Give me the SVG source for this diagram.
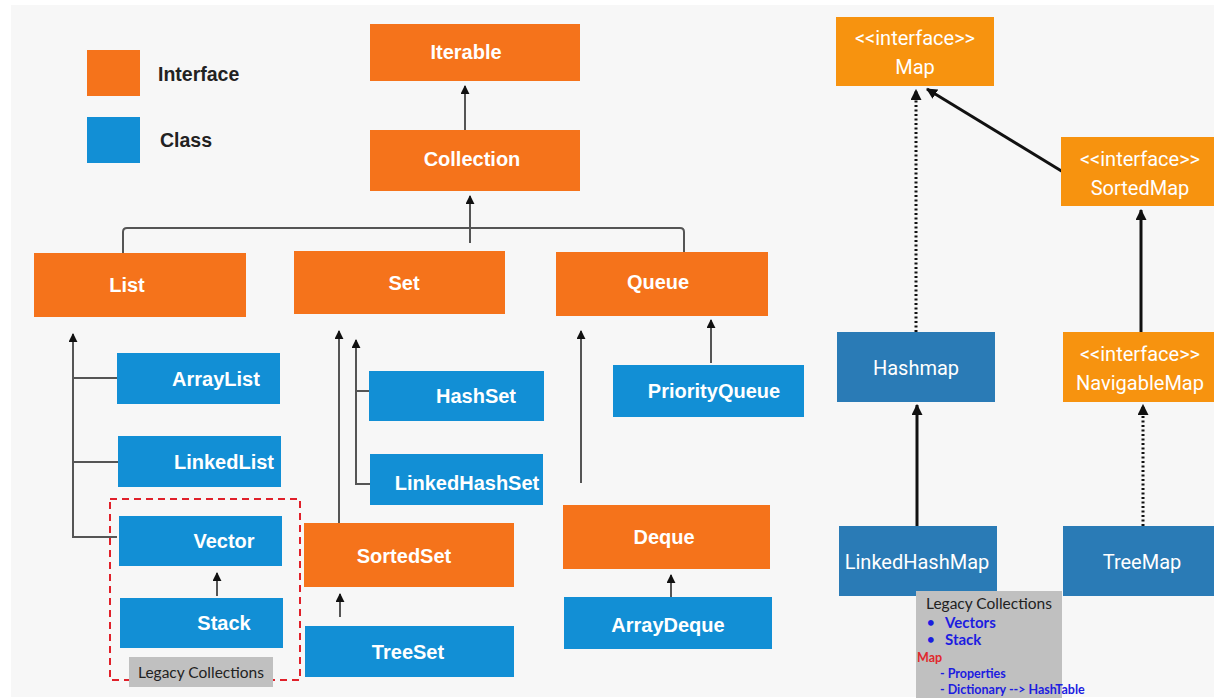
<svg xmlns="http://www.w3.org/2000/svg" width="1214" height="698" viewBox="0 0 1214 698">
  <defs>
    <style>
      .iface { fill: #f5731b; }
      .cls { fill: #128fd5; }
      .miface { fill: #f7930f; }
      .mcls { fill: #2a7bb6; }
      .lbl { font-family: "Liberation Sans", Arial, sans-serif; font-weight: bold; font-size: 20px; fill: #ffffff; text-anchor: middle; }
      .mlbl { font-family: "Liberation Sans Narrow", "Roboto", "Liberation Sans", sans-serif; font-size: 20px; fill: #ffffff; text-anchor: middle; }
      .legend { font-family: "Liberation Sans", Arial, sans-serif; font-weight: bold; font-size: 19.5px; fill: #222222; }
      .wire { fill: none; stroke: #555555; stroke-width: 2; }
      .mwire { fill: none; stroke: #111111; stroke-width: 3; }
      .mdot { fill: none; stroke: #111111; stroke-width: 3; stroke-dasharray: 2 2.5; }
      .note { font-family: Lato, "Open Sans", sans-serif; font-size: 15.5px; fill: #222222; }
      .blue { font-family: Lato, "Open Sans", sans-serif; font-weight: bold; fill: #1c1ce0; }
    </style>
    <marker id="tip" viewBox="0 0 10 10" refX="9" refY="5" markerWidth="9" markerHeight="9" markerUnits="userSpaceOnUse" orient="auto">
      <path d="M0,0 L10,5 L0,10 Z" fill="#111111"/>
    </marker>
    <marker id="mtip" viewBox="0 0 10 10" refX="9" refY="5" markerWidth="11" markerHeight="11" markerUnits="userSpaceOnUse" orient="auto">
      <path d="M0,0 L10,5 L0,10 Z" fill="#111111"/>
    </marker>
  </defs>

  <!-- page -->
  <rect x="0" y="0" width="1214" height="698" fill="#ffffff"/>
  <rect x="11" y="5" width="1203" height="692" fill="#f7f7f7"/>

  <!-- legend -->
  <g id="legend">
    <rect class="iface" x="87" y="50" width="53" height="46"/>
    <text class="legend" x="158" y="81">Interface</text>
    <rect class="cls" x="87" y="117" width="53" height="46"/>
    <text class="legend" x="160" y="147">Class</text>
  </g>

  <!-- connectors -->
  <g id="connectors">
    <!-- collection hierarchy -->
    <line class="wire" x1="465" y1="130" x2="465" y2="86" marker-end="url(#tip)"/>
    <path class="wire" d="M123,253 V232 Q123,228 127,228 H680 Q684,228 684,232 V252"/>
    <line class="wire" x1="470" y1="243" x2="470" y2="196" marker-end="url(#tip)"/>

    <!-- List implementations -->
    <path class="wire" d="M117,537 H73 V334" marker-end="url(#tip)"/>
    <line class="wire" x1="73" y1="378" x2="117" y2="378"/>
    <line class="wire" x1="73" y1="462" x2="118" y2="462"/>
    <line class="wire" x1="217" y1="596" x2="217" y2="573" marker-end="url(#tip)"/>

    <!-- Set implementations -->
    <path class="wire" d="M370,484 H356 V340" marker-end="url(#tip)"/>
    <line class="wire" x1="356" y1="391" x2="369" y2="391"/>
    <line class="wire" x1="339" y1="523" x2="339" y2="331" marker-end="url(#tip)"/>
    <line class="wire" x1="340" y1="617" x2="340" y2="594" marker-end="url(#tip)"/>

    <!-- Queue implementations -->
    <line class="wire" x1="581" y1="483" x2="581" y2="331" marker-end="url(#tip)"/>
    <line class="wire" x1="711" y1="363" x2="711" y2="320" marker-end="url(#tip)"/>
    <line class="wire" x1="671" y1="597" x2="671" y2="575" marker-end="url(#tip)"/>

    <!-- Map hierarchy -->
    <line class="mdot" x1="916" y1="332" x2="916" y2="90" marker-end="url(#mtip)"/>
    <line class="mwire" x1="1068" y1="175" x2="927" y2="89" marker-end="url(#mtip)"/>
    <line class="mwire" x1="1141" y1="332" x2="1141" y2="210" marker-end="url(#mtip)"/>
    <line class="mwire" x1="917" y1="526" x2="917" y2="405" marker-end="url(#mtip)"/>
    <line class="mdot" x1="1143" y1="526" x2="1143" y2="405" marker-end="url(#mtip)"/>
  </g>

  <!-- collection interfaces -->
  <g id="iterable"><rect class="iface" x="370" y="24" width="210" height="57"/><text class="lbl" x="466" y="59">Iterable</text></g>
  <g id="collection"><rect class="iface" x="370" y="130" width="210" height="61"/><text class="lbl" x="472" y="166">Collection</text></g>
  <g id="list"><rect class="iface" x="34" y="253" width="212" height="64"/><text class="lbl" x="127" y="292">List</text></g>
  <g id="set"><rect class="iface" x="294" y="251" width="211" height="63"/><text class="lbl" x="404" y="290">Set</text></g>
  <g id="queue"><rect class="iface" x="556" y="252" width="212" height="64"/><text class="lbl" x="658" y="289">Queue</text></g>

  <!-- list classes -->
  <g id="arraylist"><rect class="cls" x="117" y="353" width="163" height="51"/><text class="lbl" x="216" y="386">ArrayList</text></g>
  <g id="linkedlist"><rect class="cls" x="118" y="436" width="163" height="51"/><text class="lbl" x="224" y="469">LinkedList</text></g>

  <!-- legacy group -->
  <g id="legacy-left">
    <rect x="110" y="499" width="190" height="181" fill="none" stroke="#e0202a" stroke-width="2" stroke-dasharray="7 5"/>
    <rect x="129" y="657" width="144" height="30" fill="#c0c0c0"/>
    <text class="note" x="201" y="678" text-anchor="middle">Legacy Collections</text>
  </g>
  <g id="vector"><rect class="cls" x="119" y="516" width="163" height="50"/><text class="lbl" x="224" y="548">Vector</text></g>
  <g id="stack"><rect class="cls" x="120" y="598" width="163" height="50"/><text class="lbl" x="224" y="630">Stack</text></g>

  <!-- set classes -->
  <g id="hashset"><rect class="cls" x="369" y="371" width="175" height="50"/><text class="lbl" x="476" y="403">HashSet</text></g>
  <g id="linkedhashset"><rect class="cls" x="370" y="454" width="173" height="51"/><text class="lbl" x="467" y="490">LinkedHashSet</text></g>
  <g id="sortedset"><rect class="iface" x="304" y="523" width="210" height="64"/><text class="lbl" x="404" y="563">SortedSet</text></g>
  <g id="treeset"><rect class="cls" x="305" y="626" width="209" height="51"/><text class="lbl" x="408" y="659">TreeSet</text></g>

  <!-- queue classes -->
  <g id="priorityqueue"><rect class="cls" x="613" y="365" width="191" height="52"/><text class="lbl" x="714" y="398">PriorityQueue</text></g>
  <g id="deque"><rect class="iface" x="563" y="505" width="207" height="64"/><text class="lbl" x="664" y="544">Deque</text></g>
  <g id="arraydeque"><rect class="cls" x="564" y="597" width="208" height="52"/><text class="lbl" x="668" y="632">ArrayDeque</text></g>

  <!-- map hierarchy -->
  <g id="map"><rect class="miface" x="836" y="17" width="158" height="69"/><text class="mlbl" x="915" y="45">&lt;&lt;interface&gt;&gt;</text><text class="mlbl" x="915" y="74">Map</text></g>
  <g id="sortedmap"><rect class="miface" x="1061" y="137" width="153" height="69"/><text class="mlbl" x="1140" y="166">&lt;&lt;interface&gt;&gt;</text><text class="mlbl" x="1140" y="195">SortedMap</text></g>
  <g id="hashmap"><rect class="mcls" x="837" y="332" width="158" height="70"/><text class="mlbl" x="916" y="375">Hashmap</text></g>
  <g id="navigablemap"><rect class="miface" x="1063" y="332" width="151" height="70"/><text class="mlbl" x="1140" y="361">&lt;&lt;interface&gt;&gt;</text><text class="mlbl" x="1140" y="390">NavigableMap</text></g>
  <g id="linkedhashmap"><rect class="mcls" x="839" y="526" width="158" height="70"/><text class="mlbl" x="917" y="569">LinkedHashMap</text></g>
  <g id="treemap"><rect class="mcls" x="1063" y="526" width="151" height="70"/><text class="mlbl" x="1142" y="569">TreeMap</text></g>

  <!-- legacy note -->
  <g id="legacy-note">
    <rect x="916" y="591" width="146" height="107" fill="#c0c0c0"/>
    <text class="note" x="926" y="609">Legacy Collections</text>
    <text class="blue" x="927" y="627" font-size="13">•</text>
    <text class="blue" x="945" y="628" font-size="15">Vectors</text>
    <text class="blue" x="927" y="644" font-size="13">•</text>
    <text class="blue" x="945" y="645" font-size="15">Stack</text>
    <text x="917" y="662" font-family="Lato, 'Open Sans', sans-serif" font-weight="bold" font-size="12.5" fill="#e0282c">Map</text>
    <text class="blue" x="940" y="678" font-size="12.5" fill="#3a28d8">- Properties</text>
    <text class="blue" x="940" y="694" font-size="12.5" fill="#3a28d8">- Dictionary --&gt; HashTable</text>
  </g>
</svg>
